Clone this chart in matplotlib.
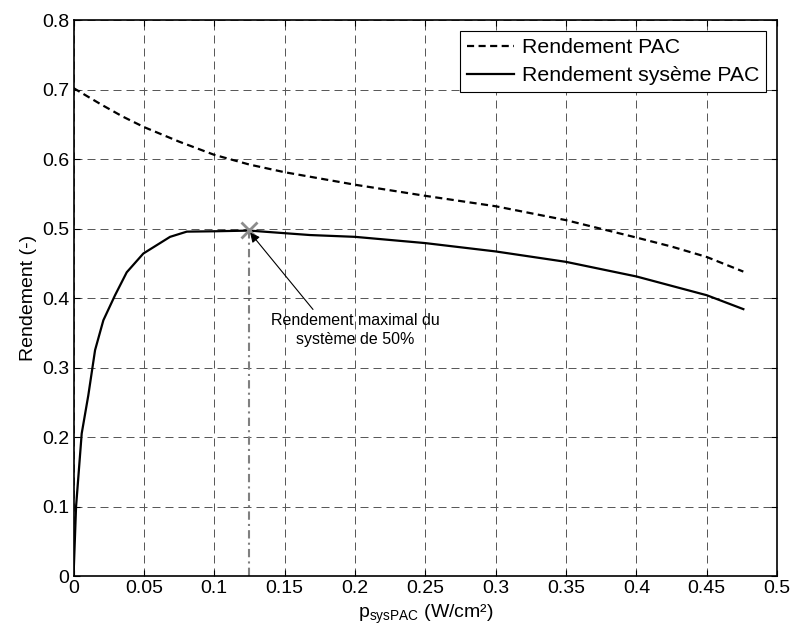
import numpy as np
import matplotlib.pyplot as plt

plt.rcParams['font.family'] = ['Liberation Sans', 'DejaVu Sans']

# Rendement PAC (dashed)
p_pac = [0.0, 0.01, 0.02, 0.035, 0.05, 0.075, 0.1, 0.125, 0.15, 0.2, 0.25, 0.3,
         0.35, 0.4, 0.425, 0.45, 0.476]
eta_pac = [0.702, 0.690, 0.678, 0.661, 0.646, 0.625, 0.606, 0.592, 0.581, 0.563,
           0.547, 0.532, 0.512, 0.487, 0.474, 0.459, 0.438]

# Rendement systeme PAC (solid)
p_sys = [0.0, 0.0018, 0.0058, 0.0105, 0.0153, 0.0212, 0.0295, 0.0378, 0.0496,
         0.0686, 0.0805, 0.1, 0.125, 0.168, 0.2, 0.25, 0.3, 0.35, 0.4,
         0.45, 0.476]
eta_sys = [0.0, 0.10, 0.205, 0.26, 0.325, 0.368, 0.404, 0.437, 0.464, 0.488,
           0.4955, 0.496, 0.497, 0.4906, 0.488, 0.479, 0.467, 0.452, 0.431,
           0.404, 0.384]

p_max = 0.1245
eta_max = 0.498

xticks = [0, 0.05, 0.1, 0.15, 0.2, 0.25, 0.3, 0.35, 0.4, 0.45, 0.5]
xtick_labels = ['0', '0.05', '0.1', '0.15', '0.2', '0.25', '0.3', '0.35', '0.4', '0.45', '0.5']
yticks = [0, 0.1, 0.2, 0.3, 0.4, 0.5, 0.6, 0.7, 0.8]
ytick_labels = ['0', '0.1', '0.2', '0.3', '0.4', '0.5', '0.6', '0.7', '0.8']


def main() -> None:
    fig = plt.figure(figsize=(7.95, 6.35), dpi=100)
    ax = fig.add_axes([0.0925, 0.0929, 0.885, 0.8756])

    ax.plot(p_pac, eta_pac, color='k', ls='--', lw=1.6, dashes=(3.2, 2),
            label='Rendement PAC')
    ax.plot(p_sys, eta_sys, color='k', ls='-', lw=1.6, label='Rendement sysème PAC')

    ax.plot([p_max, p_max], [0, eta_max], color='0.5', ls=(0, (4, 2, 1, 2)), lw=1.5)
    ax.plot(p_max, eta_max, 'x', color='0.55', ms=12, mew=2)

    ax.annotate('Rendement maximal du\nsystème de 50%',
                xy=(p_max + 0.001, eta_max - 0.004), xytext=(0.2, 0.378),
                ha='center', va='top', fontsize=11.5, linespacing=1.3,
                arrowprops=dict(arrowstyle='-|>', color='k', lw=0.8,
                                shrinkA=1, shrinkB=0, mutation_scale=14,
                                relpos=(0.27, 1.0)))

    ax.set_xlim(0, 0.5)
    ax.set_ylim(0, 0.8)
    ax.set_xticks(xticks)
    ax.set_yticks(yticks)
    ax.set_xticklabels(xtick_labels)
    ax.set_yticklabels(ytick_labels)
    ax.tick_params(labelsize=14, direction='in', length=4, top=True, right=True, pad=3)
    ax.grid(True, color='0.35', ls=(0, (8, 5)), lw=0.72)
    for s in ax.spines.values():
        s.set_linewidth(1.2)

    ax.set_xlabel(r'p$_{\mathregular{sysPAC}}$ (W/cm²)', fontsize=14, labelpad=4)
    ax.set_ylabel('Rendement (-)', fontsize=14, labelpad=4)

    leg = ax.legend(loc='upper right', fontsize=15.3, fancybox=False, framealpha=1,
                    edgecolor='k', borderaxespad=0.5, handlelength=2.2,
                    borderpad=0.35, labelspacing=0.42, handletextpad=0.35)
    leg.get_frame().set_linewidth(0.8)

    fig.savefig('out.png')


if __name__ == "__main__":
    main()
